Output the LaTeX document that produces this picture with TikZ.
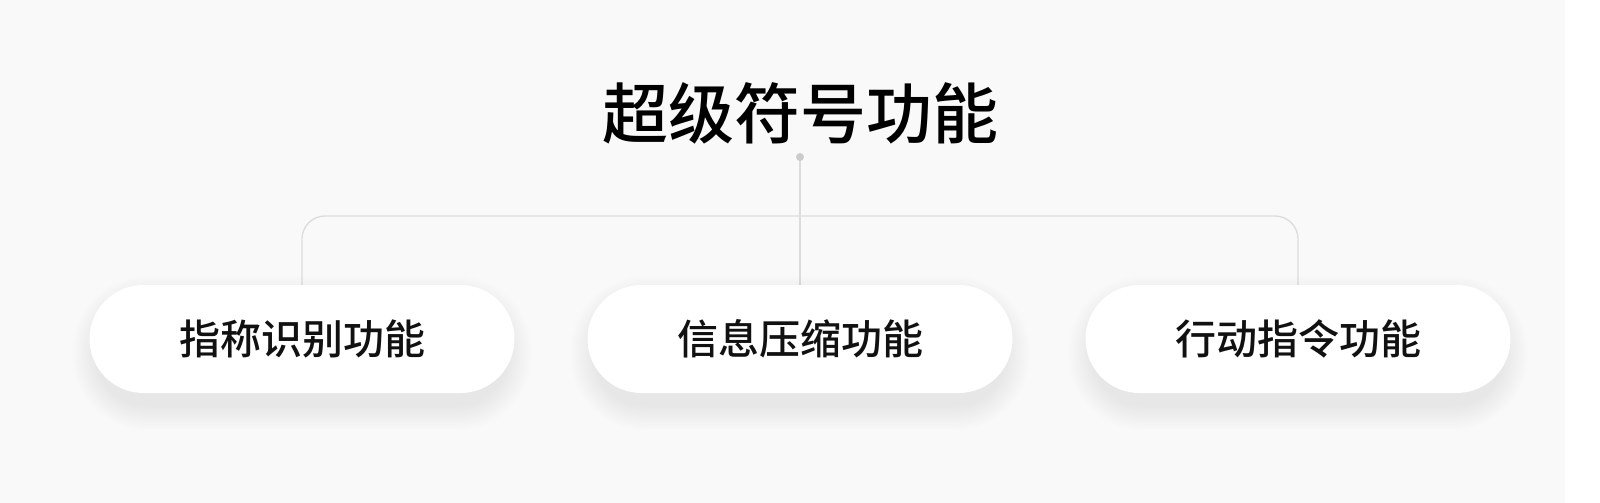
\documentclass[tikz,border=0pt]{standalone}
\usepackage{fontspec}
\newfontfamily\cjk{Noto Sans CJK SC}[UprightFont={* Medium}]
\usetikzlibrary{backgrounds}
\definecolor{bgc}{HTML}{F9F9F9}
\definecolor{linec}{HTML}{DCDCDC}
\definecolor{dotc}{HTML}{CCCCCC}
\definecolor{txt}{HTML}{111111}
\tikzset{
  pill/.style={rounded corners=54pt, fill=white, minimum width=425pt, minimum height=108pt,
    inner sep=0pt, font=\cjk\fontsize{41pt}{41pt}\selectfont, text=txt},
  conn/.style={draw=linec, line width=1.3pt},
  titlestyle/.style={font=\cjk\fontsize{66pt}{66pt}\selectfont, text=black, inner sep=0pt}
}
\newcommand{\pillshadow}[1]{%
  \foreach \i in {1,...,18}{%
    \fill[black, opacity=0.0045, rounded corners={50pt+\i*1.4pt}]
      ([xshift=8pt-\i*1.4pt, yshift=-16pt+\i*1.4pt]#1.north west) rectangle
      ([xshift=-8pt+\i*1.4pt, yshift=-12pt-\i*1.4pt]#1.south east);
  }%
}
\begin{document}
\begin{tikzpicture}[x=1pt,y=-1pt]
\node[titlestyle] (title) at (800,113) {超级符号功能};
\node[pill] (b1) at (302,339) {指称识别功能};
\node[pill] (b2) at (800,339) {信息压缩功能};
\node[pill] (b3) at (1298,339) {行动指令功能};
\coordinate (dotpt) at (800,157);
\coordinate (hubl) at (302,216);
\coordinate (hubr) at (1298,216);
\begin{scope}[on background layer]
\fill[bgc] (0,0) rectangle (1565,503);
\fill[white] (1565,0) rectangle (1600,503);
\draw[conn, rounded corners=23pt] (b1.north) -- (hubl) -- (hubr) -- (b3.north);
\draw[conn] (dotpt) -- (b2.north);
\fill[dotc] (dotpt) circle (4pt);
\pillshadow{b1}
\pillshadow{b2}
\pillshadow{b3}
\end{scope}
\useasboundingbox (0,0) rectangle (1600,503);
\end{tikzpicture}
\end{document}
